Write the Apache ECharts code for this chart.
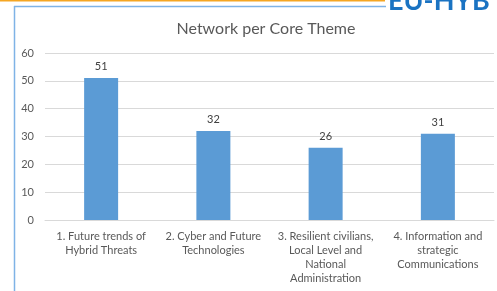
<!DOCTYPE html>
<html>
<head>
<meta charset="utf-8">
<script src="https://cdn.jsdelivr.net/npm/echarts@6/dist/echarts.min.js"></script>
<style>
html, body { margin: 0; padding: 0; background: #fff; }
#chart { width: 497px; height: 291px; }
</style>
</head>
<body>
<div id="chart"></div>
<script>
// categories and values
var themes = [
  "1. Future trends of\nHybrid Threats",
  "2. Cyber and Future\nTechnologies",
  "3. Resilient civilians,\nLocal Level and\nNational\nAdministration",
  "4. Information and\nstrategic\nCommunications"
];
var networks = [51, 32, 26, 31];
var yTicks = [0, 60, 10];

var myChart = echarts.init(document.getElementById("chart"));
myChart.setOption({
  animation: false,
  textStyle: { fontFamily: "Lato" },
  title: {
    text: "Network per Core Theme",
    left: 261,
    top: 16,
    textAlign: "center",
    textStyle: { fontSize: 16, fontWeight: "normal", color: "#595959", fontFamily: "Lato" }
  },
  grid: { left: 45, right: 3, top: 53, bottom: 71 },
  xAxis: {
    type: "category",
    data: themes,
    axisTick: { show: false },
    axisLine: { lineStyle: { color: "#d9d9d9" } },
    axisLabel: { color: "#595959", fontSize: 11, lineHeight: 14, margin: 9, interval: 0 }
  },
  yAxis: {
    type: "value",
    min: yTicks[0],
    max: yTicks[1],
    interval: yTicks[2],
    axisLabel: { color: "#595959", fontSize: 11, margin: 11 },
    splitLine: { lineStyle: { color: "#d9d9d9" } }
  },
  series: [{
    type: "bar",
    data: networks,
    barWidth: 34,
    itemStyle: { color: "#5b9bd5" },
    label: { show: true, position: "top", color: "#404040", fontSize: 11, distance: 6 }
  }],
  graphic: [
    // slide frame and logo bits
    { type: "line", shape: { x1: 0, y1: 0.5, x2: 385, y2: 0.5 }, style: { stroke: "#f5a623", lineWidth: 2 } },
    { type: "line", shape: { x1: 14.5, y1: 6, x2: 14.5, y2: 291 }, style: { stroke: "#7fb3e6", lineWidth: 1.5 } },
    { type: "line", shape: { x1: 14, y1: 6.5, x2: 386, y2: 6.5 }, style: { stroke: "#7fb3e6", lineWidth: 1.5 } },
    { type: "text", left: 388, top: -12, style: { text: "EU-HYB", fontSize: 27, fontWeight: "bold", fill: "#1a73c2", fontFamily: "Lato" } }
  ]
});
</script>
</body>
</html>
